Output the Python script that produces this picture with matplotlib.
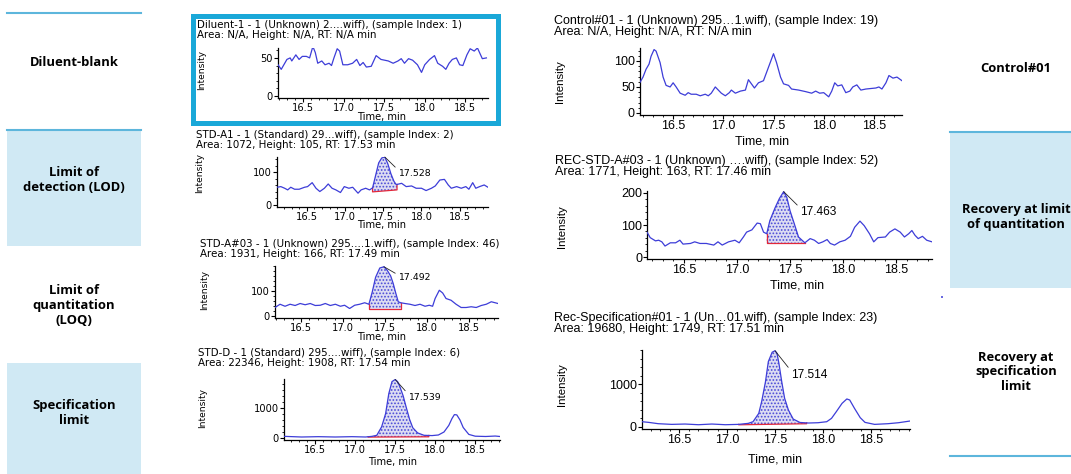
import matplotlib
matplotlib.use("Agg")
import matplotlib.pyplot as plt
from matplotlib.patches import Rectangle
from matplotlib.lines import Line2D
from matplotlib.ticker import AutoMinorLocator, MultipleLocator, FixedLocator
import numpy as np

# ---------------------------------------------------------------- data
x_ticks = [16.5, 17.0, 17.5, 18.0, 18.5]

dil_t = [16.19, 16.23, 16.30, 16.34, 16.36, 16.41, 16.45, 16.49, 16.54, 16.58,
         16.62, 16.65, 16.68, 16.73, 16.77, 16.82, 16.85, 16.88, 16.92, 16.95,
         16.99, 17.05, 17.11, 17.16, 17.20, 17.24, 17.28, 17.34, 17.40, 17.46,
         17.55, 17.61, 17.67, 17.71, 17.75, 17.80, 17.85, 17.91, 17.96, 18.00,
         18.06, 18.12, 18.16, 18.22, 18.26, 18.30, 18.34, 18.39, 18.43, 18.47,
         18.52, 18.56, 18.61, 18.65, 18.71, 18.76]
dil_i = [41, 35, 48, 50, 46, 54, 48, 52, 52, 50,
         65, 57, 43, 46, 41, 43, 40, 50, 62, 59,
         41, 41, 43, 48, 40, 44, 38, 39, 53, 48,
         46, 43, 46, 49, 43, 49, 47, 41, 31, 41,
         48, 53, 43, 39, 35, 43, 48, 50, 41, 40,
         54, 62, 59, 63, 49, 50]

lod_t = [16.11, 16.16, 16.21, 16.25, 16.29, 16.34, 16.40, 16.47, 16.51, 16.57,
         16.62, 16.67, 16.73, 16.78, 16.83, 16.88, 16.94, 16.99, 17.05, 17.10,
         17.17, 17.21, 17.27, 17.32, 17.36, 17.40, 17.44, 17.48, 17.52, 17.56,
         17.60, 17.64, 17.67, 17.74, 17.80, 17.87, 17.93, 18.00, 18.06, 18.13,
         18.18, 18.24, 18.30, 18.35, 18.39, 18.46, 18.52, 18.58, 18.62, 18.67,
         18.71, 18.76, 18.82, 18.87]
lod_i = [54, 56, 51, 46, 54, 48, 48, 54, 56, 68,
         51, 41, 51, 64, 51, 46, 38, 56, 51, 54,
         36, 46, 51, 46, 52, 90, 128, 143, 146, 125,
         95, 72, 62, 66, 56, 58, 51, 51, 44, 51,
         58, 76, 78, 61, 51, 56, 51, 56, 48, 68,
         51, 56, 61, 54]

loq_t = [16.19, 16.25, 16.31, 16.37, 16.43, 16.49, 16.55, 16.61, 16.67, 16.73,
         16.79, 16.85, 16.91, 16.97, 17.02, 17.08, 17.14, 17.20, 17.26, 17.31,
         17.35, 17.39, 17.44, 17.49, 17.53, 17.57, 17.60, 17.63, 17.66, 17.69,
         17.74, 17.80, 17.86, 17.92, 17.98, 18.03, 18.07, 18.10, 18.15, 18.19,
         18.23, 18.29, 18.35, 18.41, 18.47, 18.53, 18.59, 18.65, 18.71, 18.77,
         18.85]
loq_i = [34, 47, 39, 47, 42, 50, 45, 50, 42, 43,
         50, 42, 47, 39, 43, 30, 43, 47, 53, 47,
         96, 155, 192, 197, 182, 160, 130, 92, 57, 53,
         50, 47, 42, 47, 39, 43, 39, 70, 103, 92,
         70, 63, 47, 34, 34, 37, 34, 42, 47, 57,
         50]

spec_t = [16.11, 16.33, 16.54, 16.75, 16.96, 17.13, 17.21, 17.27, 17.33, 17.38,
          17.42, 17.46, 17.50, 17.53, 17.56, 17.60, 17.64, 17.68, 17.72, 17.78,
          17.86, 17.96, 18.04, 18.11, 18.17, 18.21, 18.24, 18.27, 18.31, 18.35,
          18.42, 18.50, 18.63, 18.75, 18.81]
spec_i = [55, 33, 44, 33, 44, 33, 55, 90, 370, 810,
          1480, 1880, 1950, 1880, 1700, 1400, 1000, 620, 340, 170,
          90, 80, 100, 200, 420, 650, 780, 770, 600, 350,
          120, 60, 50, 65, 50]

ctl_t = [16.17, 16.20, 16.23, 16.26, 16.28, 16.31, 16.33, 16.37, 16.40, 16.43,
         16.47, 16.50, 16.53, 16.57, 16.62, 16.65, 16.68, 16.73, 16.77, 16.82,
         16.85, 16.88, 16.92, 16.95, 16.98, 17.02, 17.06, 17.08, 17.12, 17.17,
         17.22, 17.25, 17.31, 17.35, 17.40, 17.45, 17.50, 17.53, 17.57, 17.60,
         17.65, 17.68, 17.75, 17.82, 17.88, 17.92, 17.96, 18.00, 18.05, 18.08,
         18.11, 18.14, 18.18, 18.22, 18.26, 18.29, 18.33, 18.37, 18.42, 18.47,
         18.52, 18.55, 18.58, 18.62, 18.65, 18.69, 18.73, 18.78]
ctl_i = [59, 69, 84, 94, 109, 122, 119, 97, 69, 53,
         50, 58, 50, 38, 34, 39, 36, 36, 33, 36,
         33, 38, 50, 44, 38, 33, 39, 44, 38, 42,
         44, 64, 48, 58, 62, 88, 114, 97, 69, 56,
         53, 46, 44, 41, 38, 42, 38, 39, 31, 42,
         58, 52, 54, 39, 42, 50, 54, 44, 46, 47,
         48, 50, 46, 58, 72, 67, 69, 62]

rloq_t = [16.15, 16.18, 16.23, 16.26, 16.29, 16.32, 16.37, 16.42, 16.46, 16.49,
          16.56, 16.60, 16.65, 16.71, 16.78, 16.82, 16.86, 16.92, 16.98, 17.02,
          17.06, 17.09, 17.14, 17.19, 17.22, 17.25, 17.28, 17.31, 17.36, 17.40,
          17.44, 17.47, 17.50, 17.54, 17.58, 17.64, 17.69, 17.73, 17.77, 17.81,
          17.85, 17.88, 17.92, 17.97, 18.02, 18.07, 18.11, 18.16, 18.20, 18.25,
          18.29, 18.33, 18.40, 18.44, 18.49, 18.54, 18.58, 18.62, 18.65, 18.68,
          18.71, 18.75, 18.79, 18.84]
rloq_i = [78, 61, 51, 53, 48, 35, 45, 45, 53, 41,
          43, 48, 43, 43, 38, 48, 38, 48, 53, 45,
          63, 78, 85, 106, 104, 78, 73, 114, 154, 182,
          203, 185, 144, 104, 63, 45, 58, 53, 43, 48,
          55, 43, 38, 48, 53, 65, 93, 112, 98, 73,
          48, 61, 63, 78, 88, 78, 63, 73, 83, 68,
          58, 65, 53, 48]

rspec_t = [16.11, 16.18, 16.28, 16.42, 16.56, 16.70, 16.84, 16.98, 17.12, 17.22,
           17.27, 17.33, 17.36, 17.40, 17.43, 17.47, 17.50, 17.52, 17.54, 17.57,
           17.60, 17.64, 17.69, 17.76, 17.85, 17.95, 18.04, 18.09, 18.14, 18.20,
           18.25, 18.28, 18.33, 18.39, 18.44, 18.54, 18.68, 18.79, 18.91]
rspec_i = [118, 102, 71, 55, 63, 47, 63, 47, 55, 79,
           118, 315, 590, 1060, 1535, 1756, 1790, 1730, 1500, 1060,
           670, 390, 180, 100, 87, 94, 118, 197, 354, 550,
           654, 630, 433, 213, 102, 55, 71, 94, 134]

# peak integration: (start time, end time, baseline at start, baseline at end)
lod_peak = (17.36, 17.68, 40, 46)
loq_peak = (17.31, 17.69, 29, 29)
spec_peak = (17.16, 17.92, 30, 40)
rloq_peak = (17.28, 17.64, 43, 43)
rspec_peak = (17.12, 17.83, 45, 70)

# retention-time labels and apex points
lod_rt = ("17.528", 17.52, 146)
loq_rt = ("17.492", 17.49, 197)
spec_rt = ("17.539", 17.50, 1950)
rloq_rt = ("17.463", 17.44, 203)
rspec_rt = ("17.514", 17.50, 1790)

titles = {
    "dil": ["Diluent-1 - 1 (Unknown) 2\u2026.wiff), (sample Index: 1)",
            "Area: N/A, Height: N/A, RT: N/A min"],
    "lod": ["STD-A1 - 1 (Standard) 29\u2026wiff), (sample Index: 2)",
            "Area: 1072, Height: 105, RT: 17.53 min"],
    "loq": ["STD-A#03 - 1 (Unknown) 295\u2026.1.wiff), (sample Index: 46)",
            "Area: 1931, Height: 166, RT: 17.49 min"],
    "spec": ["STD-D - 1 (Standard) 295\u2026.wiff), (sample Index: 6)",
             "Area: 22346, Height: 1908, RT: 17.54 min"],
    "ctl": ["Control#01 - 1 (Unknown) 295\u20261.wiff), (sample Index: 19)",
            "Area: N/A, Height: N/A, RT: N/A min"],
    "rloq": ["REC-STD-A#03 - 1 (Unknown) \u2026.wiff), (sample Index: 52)",
             "Area: 1771, Height: 163, RT: 17.46 min"],
    "rspec": ["Rec-Specification#01 - 1 (Un\u202601.wiff), (sample Index: 23)",
              "Area: 19680, Height: 1749, RT: 17.51 min"],
}

left_labels = ["Diluent-blank", "Limit of\ndetection (LOD)",
               "Limit of\nquantitation\n(LOQ)", "Specification\nlimit"]
right_labels = ["Control#01", "Recovery at limit\nof quantitation",
                "Recovery at\nspecification\nlimit"]

# ---------------------------------------------------------------- style
W, H = 1071, 474
BLUE = "#3d3dd8"
RED = "#e2283a"
BOXBLUE = "#d0e9f4"
LINEBLUE = "#5db6dc"
LEFT_FONT = ["DejaVu Sans"]
RIGHT_FONT = ["Liberation Sans", "DejaVu Sans"]
LABEL_FONT = ["Open Sans", "DejaVu Sans"]
plt.rcParams["hatch.linewidth"] = 0.8

fig = plt.figure(figsize=(W / 100, H / 100), dpi=100)


def fx(x):
    return x / W


def fy(y):
    return 1 - y / H


def rect_px(l, t, r, b):
    return [l / W, 1 - b / H, (r - l) / W, (b - t) / H]


# ---------------------------------------------------------------- side label boxes
def box(l, t, r, b, color):
    fig.patches.append(Rectangle((fx(l), fy(b)), (r - l) / W, (b - t) / H,
                                 transform=fig.transFigure, facecolor=color,
                                 edgecolor="none", zorder=0))


def hline(x0, x1, y, color=LINEBLUE, lw=1.5):
    fig.lines.append(Line2D([fx(x0), fx(x1)], [fy(y), fy(y)],
                            transform=fig.transFigure, color=color, lw=lw))


box(7, 130, 141, 246, BOXBLUE)
box(7, 363, 141, 474, BOXBLUE)
hline(7, 141, 13)
hline(7, 141, 130)
left_y = [63, 180, 305, 413]
for txt, y in zip(left_labels, left_y):
    fig.text(fx(74), fy(y), txt, ha="center", va="center", fontsize=9.4,
             fontweight="bold", family=LABEL_FONT, linespacing=1.2)

box(950, 132, 1071, 288, BOXBLUE)
hline(950, 1071, 132)
hline(950, 1071, 456)
right_y = [69, 217, 372]
for txt, y in zip(right_labels, right_y):
    fig.text(fx(1016), fy(y), txt, ha="center", va="center", fontsize=9.3,
             fontweight="bold", family=LABEL_FONT, linespacing=1.2)

fig.patches.append(Rectangle((fx(941), fy(298)), 2 / W, 2 / H, transform=fig.transFigure,
                             facecolor="#6a6ae0", edgecolor="none"))

# highlight frame round the diluent panel
fig.patches.append(Rectangle((fx(192.5), fy(122.5)), (497.5 - 192.5) / W,
                             (122.5 - 16.5) / H, transform=fig.transFigure,
                             facecolor="none", edgecolor="#1aa8d8", lw=3.6, zorder=5))


# ---------------------------------------------------------------- panels
def panel(t, v, key, axpx, xlim, ylim, yticks, fs, font, title_xy, int_xy, time_xy,
          peak=None, rt=None, rt_xy=None, title_fs=None):
    ax = fig.add_axes(rect_px(*axpx))
    ax.plot(t, v, color=BLUE, lw=0.9, zorder=3)
    if peak is not None:
        s, e, b0, b1 = peak
        tt = np.asarray(t, float)
        vv = np.asarray(v, float)
        inner = tt[(tt > s) & (tt < e)]
        xs = np.concatenate([[s], inner, [e]])
        ys = np.interp(xs, tt, vv)
        base = b0 + (b1 - b0) * (xs - s) / (e - s)
        ax.fill_between(xs, base, ys, facecolor="#dcdcf2", edgecolor="#4a4ad6",
                        hatch=".....", linewidth=0, zorder=2)
        ax.plot([s, s, e, e], [ys[0], b0, b1, ys[-1]], color=RED, lw=0.9, zorder=2.5)
    ax.set_xlim(*xlim)
    ax.set_ylim(*ylim)
    for sp in ("top", "right"):
        ax.spines[sp].set_visible(False)
    for sp in ("left", "bottom"):
        ax.spines[sp].set_linewidth(0.9)
    ax.xaxis.set_major_locator(FixedLocator(x_ticks))
    ax.xaxis.set_minor_locator(MultipleLocator(0.1))
    ax.yaxis.set_major_locator(FixedLocator(yticks))
    ax.yaxis.set_minor_locator(AutoMinorLocator(5))
    ax.tick_params(which="major", direction="out", length=2.6, width=0.8,
                   labelsize=fs, pad=1.0)
    ax.tick_params(which="minor", direction="out", length=1.5, width=0.6)
    ax.set_xticklabels([f"{x:.1f}" for x in x_ticks], family=font)
    ax.set_yticklabels([str(y) for y in yticks], family=font)
    ax.patch.set_alpha(0)
    tfs = title_fs or fs
    tx, ty1, ty2 = title_xy
    fs_px = tfs * 100 / 72
    lsp = (ty2 - ty1) / (fs_px * 1.17)
    fig.text(fx(tx), fy((ty1 + ty2) / 2), "\n".join(titles[key]), ha="left",
             va="center", fontsize=tfs, family=font, linespacing=lsp)
    fig.text(fx(int_xy[0]), fy(int_xy[1]), "Intensity", rotation=90,
             ha="center", va="center", fontsize=fs * 0.92, family=font)
    fig.text(fx(time_xy[0]), fy(time_xy[1]), "Time, min", ha="center",
             va="center", fontsize=fs, family=font)
    if rt is not None:
        label, rt_t, rt_v = rt
        ax.annotate(label, xy=(rt_t, rt_v), xytext=(rt_xy[0], H - rt_xy[1]),
                    textcoords="figure pixels", ha="left", va="center",
                    fontsize=fs * 0.95, family=font,
                    arrowprops=dict(arrowstyle="-", lw=0.6, color="#222222",
                                    shrinkA=0, shrinkB=0, relpos=(0.0, 0.85)),
                    annotation_clip=False, zorder=4)
    return ax


FS_L = 7.1
FS_LT = 7.4
FS_R = 9.0

panel(dil_t, dil_i, "dil", (278, 48, 488, 98), (16.19, 18.78), (-2.6, 63), [0, 50],
      FS_L, LEFT_FONT, (197, 24, 35.5), (202, 70), (382, 117), title_fs=FS_LT)
panel(lod_t, lod_i, "lod", (277, 157, 488, 207), (16.11, 18.87), (-6, 146), [0, 100],
      FS_L, LEFT_FONT, (196, 134.5, 146), (200, 173), (382, 225),
      peak=lod_peak, rt=lod_rt, rt_xy=(398, 173), title_fs=FS_LT)
panel(loq_t, loq_i, "loq", (275, 266, 498, 318), (16.19, 18.85), (-8, 200), [0, 100],
      FS_L, LEFT_FONT, (200, 243.5, 255), (205, 290), (382, 337),
      peak=loq_peak, rt=loq_rt, rt_xy=(398, 278), title_fs=FS_LT)
panel(spec_t, spec_i, "spec", (284, 379, 500, 440), (16.11, 18.81), (-67, 1967), [0, 1000],
      FS_L, LEFT_FONT, (198, 352, 364), (203, 408), (393, 462),
      peak=spec_peak, rt=spec_rt, rt_xy=(408, 397), title_fs=FS_LT)

panel(ctl_t, ctl_i, "ctl", (640, 48, 902, 115), (16.17, 18.78), (-4, 125), [0, 50, 100],
      FS_R, RIGHT_FONT, (554, 20, 33), (560, 82), (762, 141))
panel(rloq_t, rloq_i, "rloq", (647, 191, 932, 259), (16.15, 18.84), (-5, 205), [0, 100, 200],
      FS_R, RIGHT_FONT, (555, 160, 173), (562, 227), (797, 286),
      peak=rloq_peak, rt=rloq_rt, rt_xy=(800, 212))
panel(rspec_t, rspec_i, "rspec", (642, 350, 910, 429), (16.11, 18.91), (-54, 1808), [0, 1000],
      FS_R, RIGHT_FONT, (554, 317, 330), (562, 385), (775, 459),
      peak=rspec_peak, rt=rspec_rt, rt_xy=(791, 375))

fig.savefig("out.png", dpi=100)
